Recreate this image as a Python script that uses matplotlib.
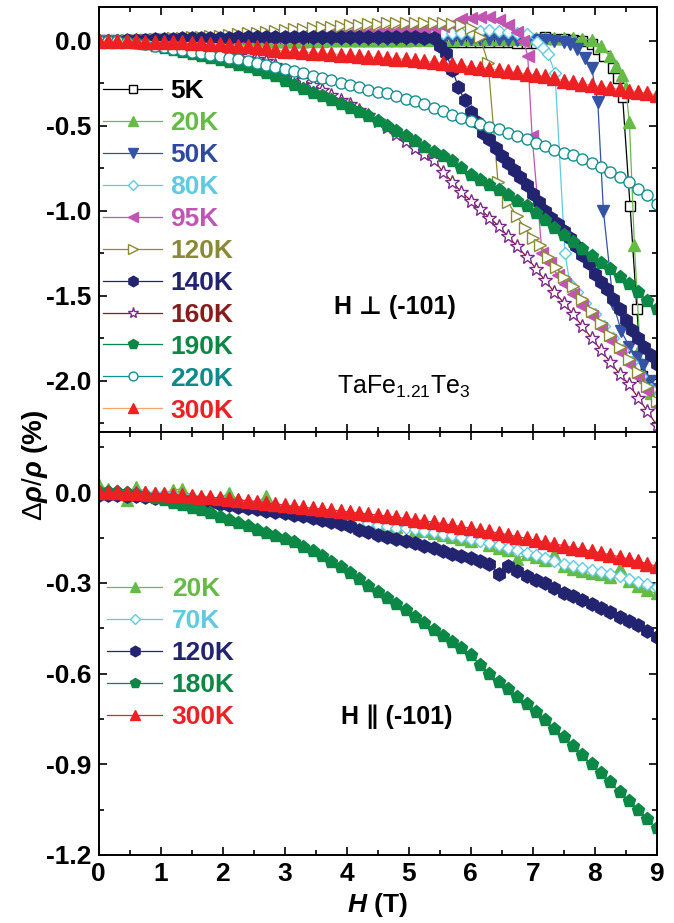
import matplotlib
matplotlib.use('Agg')
import matplotlib.pyplot as plt
from matplotlib.ticker import MultipleLocator, FormatStrFormatter

plt.rcParams['font.family'] = ['Liberation Sans', 'DejaVu Sans']
plt.rcParams['axes.unicode_minus'] = False
plt.rcParams['mathtext.fontset'] = 'custom'
plt.rcParams['mathtext.rm'] = 'Liberation Sans'
plt.rcParams['mathtext.it'] = 'Liberation Sans:italic:bold'
plt.rcParams['mathtext.bf'] = 'Liberation Sans:bold'

# ---------------- data ----------------
G = [0.0, 0.15, 0.3, 0.45, 0.6, 0.75, 0.9, 1.05, 1.2, 1.35,
     1.5, 1.65, 1.8, 1.95, 2.1, 2.25, 2.4, 2.55, 2.7, 2.85,
     3.0, 3.15, 3.3, 3.45, 3.6, 3.75, 3.9, 4.05, 4.2, 4.35,
     4.5, 4.65, 4.8, 4.95, 5.1, 5.25, 5.4, 5.55, 5.7, 5.85,
     6.0, 6.15, 6.3, 6.45, 6.6, 6.75, 6.9, 7.05, 7.2, 7.35,
     7.5, 7.65, 7.8, 7.95, 8.1, 8.25, 8.4, 8.55, 8.7, 8.85, 9.0]

# ---- top panel: H perpendicular (-101) ----
H_5K = G[:54] + [8.05, 8.15, 8.3, 8.37, 8.45, 8.57, 8.68, 8.76, 8.85, 8.94, 9.0]
V_5K = [0, 0, 0, -0.002, -0.003, -0.004, -0.005, -0.005, -0.006, -0.006,
        -0.006, -0.007, -0.007, -0.007, -0.007, -0.007, -0.007, -0.007, -0.006, -0.006,
        -0.006, -0.005, -0.005, -0.004, -0.004, -0.003, -0.003, -0.002, -0.002, -0.001,
        -0.001, 0, 0, 0.001, 0.002, 0.002, 0.003, 0.003, -0.01, -0.01,
        -0.01, -0.01, -0.01, -0.01, -0.01, -0.012, -0.012, -0.012, 0.02, 0.012,
        0.01, 0.006, 0.0, -0.02,
        -0.05, -0.09, -0.16, -0.22, -0.33, -0.97, -1.58, -1.97, -2.0, -2.02, -2.06]

H_20K = G[:54] + [8.1, 8.24, 8.35, 8.44, 8.5, 8.56, 8.64, 8.73, 8.81, 8.9, 9.0]
V_20K = [0, 0, -0.001, -0.002, -0.003, -0.004, -0.004, -0.005, -0.005, -0.005,
         -0.005, -0.005, -0.005, -0.004, -0.004, -0.003, -0.003, -0.002, -0.002, -0.001,
         -0.001, 0, 0, 0.001, 0.001, 0.002, 0.002, 0.003, 0.003, 0.004,
         0.004, 0.005, 0.005, 0.005, 0.006, 0.006, 0.006, 0.007, 0.007, 0.008,
         0.008, 0.009, 0.01, 0.01, 0.011, 0.012, 0.013, 0.014, 0.015, 0.016,
         0.017, 0.017, 0.012, 0.002,
         -0.03, -0.09, -0.15, -0.2, -0.28, -0.48, -1.2, -1.8, -1.98, -2.07, -2.12]

H_50K = G[:51] + [7.6, 7.71, 7.84, 7.95, 8.05, 8.14, 8.3, 8.43, 8.56, 8.68, 8.78, 8.89, 9.0]
V_50K = [0, 0, 0, 0.001, 0.001, 0.002, 0.002, 0.003, 0.003, 0.004,
         0.004, 0.005, 0.005, 0.006, 0.006, 0.007, 0.007, 0.008, 0.008, 0.009,
         0.009, 0.01, 0.01, 0.01, 0.011, 0.011, 0.011, 0.012, 0.012, 0.012,
         0.012, 0.012, 0.012, 0.012, 0.012, 0.012, 0.012, 0.011, 0.011, 0.01,
         0.01, 0.009, 0.008, 0.008, 0.007, 0.006, 0.005, 0.004, 0.002, 0.0,
         -0.01,
         -0.02, -0.05, -0.1, -0.16, -0.36, -1.0, -1.55, -1.71, -1.8, -1.86, -1.91, -2.0, -2.05]

H_80K = G[:47] + [7.07, 7.17, 7.25, 7.36, 7.52, 7.6, 7.72, 7.85, 8.0, 8.15, 8.3, 8.45, 8.6, 8.75, 8.9, 9.0]
V_80K = [0, 0, 0, 0.001, 0.002, 0.003, 0.004, 0.005, 0.006, 0.007,
         0.008, 0.009, 0.01, 0.011, 0.012, 0.013, 0.014, 0.015, 0.016, 0.018,
         0.019, 0.02, 0.021, 0.022, 0.024, 0.025, 0.026, 0.028, 0.029, 0.031,
         0.032, 0.034, 0.035, 0.037, 0.038, 0.04, 0.041, 0.043, 0.045, 0.048,
         0.052, 0.06, 0.065, 0.058, 0.05, 0.047, 0.04,
         -0.01, -0.04, -0.08, -0.19, -1.25, -1.43, -1.48, -1.54, -1.61, -1.68, -1.75, -1.82, -1.89, -1.97, -2.05, -2.1]

H_95K = G[:46] + [6.85, 6.92, 6.99, 7.15, 7.28, 7.4, 7.52, 7.65, 7.8, 7.95, 8.1, 8.25, 8.4, 8.55, 8.7, 8.85, 9.0]
V_95K = [0, 0, 0, 0.001, 0.002, 0.003, 0.004, 0.005, 0.006, 0.008,
         0.01, 0.012, 0.014, 0.016, 0.018, 0.02, 0.022, 0.024, 0.026, 0.028,
         0.03, 0.032, 0.034, 0.036, 0.038, 0.04, 0.042, 0.044, 0.046, 0.049,
         0.052, 0.055, 0.058, 0.062, 0.066, 0.07, 0.075, 0.085, 0.1, 0.125,
         0.135, 0.14, 0.14, 0.12, 0.09, 0.05,
         0.0, -0.09, -0.56, -1.25, -1.31, -1.38, -1.43, -1.49, -1.56, -1.62, -1.69, -1.76, -1.83, -1.9, -1.98, -2.06, -2.15]

H_120K = G[:41] + [6.15, 6.28, 6.44, 6.6, 6.74, 6.87, 7.0, 7.12, 7.25, 7.38, 7.5, 7.65, 7.8, 7.95, 8.1, 8.25, 8.4, 8.55, 8.7, 8.85, 9.0]
V_120K = [0, 0, 0, 0.002, 0.004, 0.006, 0.008, 0.01, 0.013, 0.016,
          0.019, 0.022, 0.026, 0.03, 0.034, 0.038, 0.043, 0.048, 0.053, 0.058,
          0.062, 0.066, 0.07, 0.074, 0.078, 0.082, 0.086, 0.09, 0.094, 0.097,
          0.1, 0.102, 0.104, 0.105, 0.106, 0.106, 0.105, 0.104, 0.1, 0.09,
          0.075,
          0.02, -0.13, -0.83, -0.95, -1.03, -1.1, -1.16, -1.2, -1.27, -1.33, -1.39, -1.44, -1.52, -1.59, -1.66, -1.73, -1.8, -1.87, -1.95, -2.03, -2.12]

H_140K = G[:37] + [5.5, 5.6, 5.7, 5.8, 5.9, 6.0, 6.1, 6.2, 6.3, 6.4, 6.5, 6.6, 6.7, 6.8, 6.9, 7.0, 7.1, 7.2,
                   7.3, 7.4, 7.5, 7.6, 7.7, 7.8, 7.9, 8.0, 8.1, 8.2, 8.3, 8.4, 8.5, 8.6, 8.7, 8.8, 8.9, 9.0]
V_140K = [0, 0, 0, 0.002, 0.004, 0.006, 0.008, 0.01, 0.012, 0.013,
          0.014, 0.015, 0.016, 0.017, 0.018, 0.019, 0.02, 0.02, 0.021, 0.021,
          0.022, 0.022, 0.022, 0.023, 0.023, 0.023, 0.023, 0.024, 0.024, 0.024,
          0.024, 0.023, 0.023, 0.022, 0.02, 0.018, 0.015,
          -0.03, -0.07, -0.17, -0.27, -0.35, -0.42, -0.48, -0.54, -0.58, -0.63, -0.68, -0.72, -0.76, -0.8,
          -0.85, -0.9, -0.95, -1.0, -1.04, -1.08, -1.12, -1.16, -1.21, -1.26, -1.31, -1.37, -1.42, -1.46,
          -1.52, -1.58, -1.64, -1.7, -1.75, -1.8, -1.85, -1.9]

V_160K = [0, 0, -0.002, -0.005, -0.009, -0.014, -0.02, -0.026, -0.032, -0.038,
          -0.045, -0.05, -0.056, -0.062, -0.07, -0.078, -0.09, -0.105, -0.12, -0.145,
          -0.175, -0.205, -0.23, -0.26, -0.29, -0.32, -0.348, -0.375, -0.405, -0.435,
          -0.47, -0.51, -0.55, -0.59, -0.63, -0.665, -0.7, -0.77, -0.83, -0.89,
          -0.94, -0.99, -1.04, -1.09, -1.15, -1.21, -1.27, -1.34, -1.41, -1.48,
          -1.54, -1.61, -1.68, -1.75, -1.82, -1.89, -1.96, -2.02, -2.1, -2.18, -2.26]

V_190K = [0, 0, -0.003, -0.008, -0.014, -0.022, -0.032, -0.042, -0.053, -0.065,
          -0.077, -0.088, -0.1, -0.113, -0.127, -0.142, -0.157, -0.174, -0.192, -0.21,
          -0.235, -0.26, -0.285, -0.305, -0.325, -0.348, -0.37, -0.395, -0.42, -0.445,
          -0.47, -0.5, -0.53, -0.56, -0.59, -0.625, -0.655, -0.68, -0.71, -0.75,
          -0.79, -0.82, -0.85, -0.88, -0.91, -0.94, -0.975, -1.015, -1.055, -1.1,
          -1.14, -1.185, -1.225, -1.265, -1.305, -1.345, -1.39, -1.43, -1.48, -1.53, -1.58]

V_220K = [0, 0, -0.003, -0.007, -0.012, -0.02, -0.03, -0.038, -0.047, -0.056,
          -0.065, -0.074, -0.083, -0.092, -0.1, -0.11, -0.12, -0.13, -0.14, -0.152,
          -0.165, -0.18, -0.192, -0.205, -0.218, -0.232, -0.246, -0.26, -0.275, -0.288,
          -0.3, -0.31, -0.325, -0.34, -0.355, -0.375, -0.395, -0.415, -0.435, -0.455,
          -0.475, -0.49, -0.505, -0.52, -0.54, -0.56, -0.58, -0.6, -0.62, -0.64,
          -0.66, -0.675, -0.695, -0.72, -0.745, -0.77, -0.8, -0.83, -0.87, -0.91, -0.96]

V_300K = [0, 0, -0.002, -0.003, -0.004, -0.005, -0.006, -0.008, -0.009, -0.01,
          -0.012, -0.014, -0.017, -0.02, -0.026, -0.03, -0.033, -0.036, -0.04, -0.055,
          -0.06, -0.063, -0.066, -0.07, -0.074, -0.078, -0.082, -0.086, -0.09, -0.094,
          -0.098, -0.102, -0.105, -0.11, -0.115, -0.12, -0.125, -0.13, -0.137, -0.145,
          -0.155, -0.16, -0.166, -0.172, -0.18, -0.187, -0.195, -0.202, -0.21, -0.22,
          -0.235, -0.245, -0.255, -0.26, -0.27, -0.277, -0.285, -0.293, -0.3, -0.31, -0.32]

# ---- bottom panel: H parallel (-101) ----
B_20K = [0.025, 0.01, 0.005, -0.025, 0.018, 0.0, -0.004, -0.006, 0.008, 0.01,
         -0.012, -0.015, -0.018, -0.02, -0.002, -0.026, -0.03, -0.034, -0.013, -0.042,
         -0.048, -0.053, -0.058, -0.063, -0.068, -0.074, -0.08, -0.086, -0.093, -0.1,
         -0.106, -0.111, -0.116, -0.09, -0.125, -0.13, -0.136, -0.142, -0.147, -0.154,
         -0.16, -0.145, -0.175, -0.183, -0.19, -0.22, -0.205, -0.214, -0.223, -0.205,
         -0.245, -0.253, -0.26, -0.267, -0.272, -0.28, -0.25, -0.295, -0.31, -0.325, -0.335]

B_70K = [0, 0.005, 0.003, 0.001, -0.001, -0.003, -0.005, -0.007, -0.009, -0.012,
         -0.015, -0.018, -0.021, -0.024, -0.028, -0.032, -0.036, -0.04, -0.044, -0.049,
         -0.054, -0.059, -0.064, -0.069, -0.074, -0.079, -0.085, -0.091, -0.097, -0.103,
         -0.109, -0.113, -0.117, -0.12, -0.123, -0.127, -0.132, -0.137, -0.143, -0.149,
         -0.155, -0.162, -0.169, -0.176, -0.184, -0.192, -0.2, -0.209, -0.219, -0.228,
         -0.237, -0.245, -0.252, -0.258, -0.264, -0.27, -0.278, -0.287, -0.296, -0.305, -0.313]

B_120K = [-0.01, -0.01, -0.011, -0.012, -0.014, -0.016, -0.018, -0.02, -0.023, -0.026,
          -0.03, -0.033, -0.036, -0.04, -0.044, -0.048, -0.052, -0.056, -0.061, -0.066,
          -0.07, -0.075, -0.08, -0.086, -0.092, -0.098, -0.105, -0.112, -0.124, -0.131,
          -0.14, -0.147, -0.155, -0.162, -0.167, -0.177, -0.186, -0.196, -0.203, -0.21,
          -0.219, -0.228, -0.236, -0.27, -0.245, -0.262, -0.276, -0.29, -0.301, -0.318,
          -0.335, -0.345, -0.356, -0.37, -0.382, -0.395, -0.412, -0.425, -0.438, -0.458, -0.478]

B_180K = [0, 0, -0.001, -0.003, -0.007, -0.012, -0.02, -0.027, -0.035, -0.043,
          -0.051, -0.06, -0.07, -0.082, -0.093, -0.103, -0.113, -0.124, -0.134, -0.145,
          -0.155, -0.166, -0.18, -0.195, -0.212, -0.23, -0.248, -0.268, -0.288, -0.31,
          -0.33, -0.35, -0.37, -0.39, -0.412, -0.434, -0.455, -0.475, -0.495, -0.516,
          -0.54, -0.57, -0.6, -0.627, -0.652, -0.676, -0.7, -0.728, -0.755, -0.783,
          -0.81, -0.84, -0.87, -0.9, -0.93, -0.96, -0.99, -1.02, -1.05, -1.08, -1.11]

B_300K = [0, 0, -0.001, -0.002, -0.003, -0.004, -0.005, -0.007, -0.009, -0.011,
          -0.013, -0.015, -0.017, -0.019, -0.022, -0.025, -0.028, -0.031, -0.035, -0.039,
          -0.043, -0.047, -0.05, -0.053, -0.056, -0.059, -0.062, -0.066, -0.069, -0.072,
          -0.076, -0.079, -0.083, -0.087, -0.091, -0.095, -0.099, -0.104, -0.109, -0.114,
          -0.12, -0.125, -0.13, -0.135, -0.141, -0.147, -0.153, -0.159, -0.165, -0.171,
          -0.177, -0.183, -0.189, -0.195, -0.201, -0.207, -0.214, -0.221, -0.229, -0.237, -0.245]

top_labels = ['5K', '20K', '50K', '80K', '95K', '120K', '140K', '160K', '190K', '220K', '300K']
bot_labels = ['20K', '70K', '120K', '180K', '300K']
top_x_ticks = [0, 1, 2, 3, 4, 5, 6, 7, 8, 9]
top_y_ticks = [0.0, -0.5, -1.0, -1.5, -2.0]
bot_y_ticks = [0.0, -0.3, -0.6, -0.9, -1.2]

# ---------------- styles ----------------
GREEN = '#66bb47'; BLUE = '#3553a6'; CYAN = '#5fcbe0'; MAG = '#c254b4'
OLIVE = '#8a8a36'; NAVY = '#232470'; PURP = '#7a2a88'; DRED = '#8b1a1a'
DGREEN = '#0b8746'; TEAL = '#14908e'; RED = '#ed2024'; ORANGE = '#f5a46c'

def sty(line, marker, ms, face, edge, mew=1.0):
    return dict(color=line, marker=marker, ms=ms, mfc=face, mec=edge, mew=mew, lw=0.9)

top_series = [
    (H_5K, V_5K, sty('black', 's', 6.5, 'white', 'black'), 'black'),
    (H_20K, V_20K, sty(GREEN, '^', 9, GREEN, GREEN), GREEN),
    (H_50K, V_50K, sty(BLUE, 'v', 9, BLUE, BLUE), '#2e4a9e'),
    (H_80K, V_80K, sty(CYAN, 'D', 6.5, 'white', CYAN), CYAN),
    (H_95K, V_95K, sty(MAG, '<', 9, MAG, MAG), MAG),
    (H_120K, V_120K, sty(OLIVE, '>', 9, 'white', OLIVE), OLIVE),
    (H_140K, V_140K, sty(NAVY, 'h', 9.5, NAVY, NAVY), NAVY),
    (G, V_160K, sty(DRED, '*', 10, 'white', PURP), DRED),
    (G, V_190K, sty(DGREEN, 'p', 9.5, DGREEN, DGREEN), DGREEN),
    (G, V_220K, sty(TEAL, 'o', 8, 'white', TEAL), '#0e8a8a'),
    (G, V_300K, sty(ORANGE, '^', 9.5, RED, RED), RED),
]
bot_series = [
    (G, B_20K, sty(GREEN, '^', 9, GREEN, GREEN), GREEN),
    (G, B_70K, sty(CYAN, 'D', 6.5, 'white', CYAN), CYAN),
    (G, B_120K, sty(NAVY, 'h', 9.5, NAVY, NAVY), NAVY),
    (G, B_180K, sty(DGREEN, 'p', 9.5, DGREEN, DGREEN), DGREEN),
    (G, B_300K, sty(RED, '^', 9.5, RED, RED), RED),
]

# ---------------- figure ----------------
fig = plt.figure(figsize=(6.74, 9.23), dpi=100)
L, W = 98.7 / 674, 558 / 674
ax1 = fig.add_axes([L, 1 - 431.7 / 923, W, 425 / 923])
ax2 = fig.add_axes([L, 1 - 855 / 923, W, 423.3 / 923])

TICKFONT = dict(family='Liberation Sans', weight='bold', size=19)
LEGFONT = dict(family='Liberation Sans', weight='bold', size=19)

for ax, series, labels in ((ax1, top_series, top_labels), (ax2, bot_series, bot_labels)):
    for (h, v, st, tc), lab in zip(series, labels):
        ax.plot(h, v, label=lab, **st)
    ax.set_xlim(0, 9)
    ax.set_xticks(top_x_ticks)
    ax.xaxis.set_minor_locator(MultipleLocator(0.5))
    ax.tick_params(which='both', direction='in', top=True, right=True, width=1.2)
    ax.tick_params(which='major', length=6, pad=5)
    ax.tick_params(which='minor', length=3.5)
    for s in ax.spines.values():
        s.set_linewidth(1.4)

ax1.set_ylim(-2.3, 0.2)
ax1.set_yticks(top_y_ticks)
ax1.yaxis.set_minor_locator(MultipleLocator(0.25))
ax1.yaxis.set_major_formatter(FormatStrFormatter('%.1f'))
ax1.tick_params(labelbottom=False)

ax2.set_ylim(-1.2, 0.2)
ax2.set_yticks(bot_y_ticks)
ax2.yaxis.set_minor_locator(MultipleLocator(0.15))
ax2.yaxis.set_major_formatter(FormatStrFormatter('%.1f'))

for ax in (ax1, ax2):
    for lbl in ax.get_xticklabels() + ax.get_yticklabels():
        lbl.set_fontproperties(TICKFONT)

leg1 = ax1.legend(loc='upper left', bbox_to_anchor=(0.008, 0.829), frameon=False, prop=LEGFONT,
                  handlelength=2.24, handletextpad=0.3, labelspacing=0.3, borderpad=0,
                  borderaxespad=0, markerscale=0.8)
for t, s in zip(leg1.get_texts(), top_series):
    t.set_color(s[3])
leg2 = ax2.legend(loc='upper left', bbox_to_anchor=(0.015, 0.656), frameon=False, prop=LEGFONT,
                  handlelength=2.1, handletextpad=0.35, labelspacing=0.3, borderpad=0,
                  borderaxespad=0, markerscale=0.8)
for t, s in zip(leg2.get_texts(), bot_series):
    t.set_color(s[3])

ax1.text(0.531, 0.293, 'H \u22a5 (-101)', transform=ax1.transAxes, ha='center', va='center',
         fontsize=18, fontweight='bold', family=['Liberation Sans', 'DejaVu Sans'])
ax1.text(0.546, 0.089, r'TaFe$_{\mathrm{1.21}}$Te$_{\mathrm{3}}$', transform=ax1.transAxes,
         ha='center', va='baseline', fontsize=18)
ax2.text(0.535, 0.326, 'H \u2225 (-101)', transform=ax2.transAxes, ha='center', va='center',
         fontsize=18, fontweight='bold', family=['Liberation Sans', 'DejaVu Sans'])

fig.text(0.052, 0.496, r'$\Delta\rho/\rho$ (%)', rotation=90, ha='center', va='center',
         fontsize=20, fontweight='bold')
fig.text(0.5604, 0.0195, r'$H$ (T)', ha='center', va='center', fontsize=19, fontweight='bold')

fig.savefig('out.png', dpi=100)
